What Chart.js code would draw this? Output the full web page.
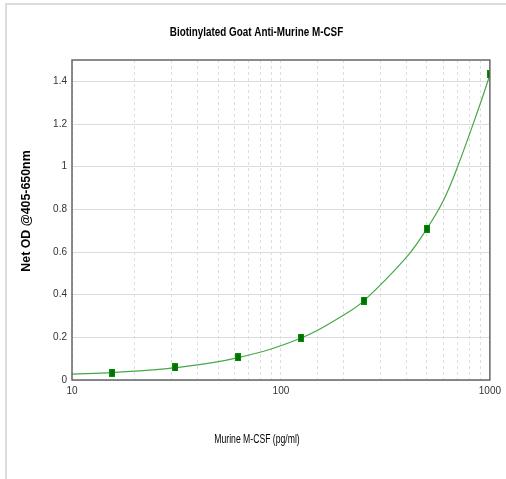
<!DOCTYPE html>
<html>
<head>
<meta charset="utf-8">
<script src="https://cdn.jsdelivr.net/npm/chart.js@4"></script>
<style>
  html, body { margin: 0; padding: 0; background: #fff; }
  #wrap { position: relative; width: 506px; height: 479px; }
  #frame { position: absolute; left: 5px; top: 3px; right: 0; bottom: 0;
           border-top: 2px solid #dcdcdc; border-left: 2px solid #dcdcdc; }
  canvas { position: absolute; left: 0; top: 0; }
</style>
</head>
<body>
<div id="wrap">
  <div id="frame"></div>
  <canvas id="chart" width="506" height="479"></canvas>
</div>
<script>
const concentrations = [15.6, 31.25, 62.5, 125, 250, 500, 1000];
const odValues = [0.034, 0.059, 0.106, 0.198, 0.372, 0.71, 1.433];
// fitted curve (starts at the left edge of the axis)
const curveX = [10, 15.6, 31.25, 62.5, 125, 200, 250, 400, 500, 600, 700, 900, 1000];
const curveY = [0.028, 0.035, 0.058, 0.105, 0.197, 0.305, 0.372, 0.577, 0.71, 0.843, 0.999, 1.296, 1.43];
const xTickLabels = [10, 100, 1000];

const chartTitle = "Biotinylated Goat Anti-Murine M-CSF";
const xTitle = "Murine M-CSF (pg/ml)";
const yTitle = "Net OD @405-650nm";

const sans = "'Liberation Sans', Arial, sans-serif";

// small upright green block used as the marker
const marker = document.createElement("canvas");
marker.width = 6;
marker.height = 8;
const mctx = marker.getContext("2d");
mctx.fillStyle = "#0a8a0a";
mctx.fillRect(0, 0, 6, 8);
mctx.fillStyle = "#007000";
mctx.fillRect(1, 1, 4, 6);

// no narrow font installed, so the titles are squeezed sideways
function narrowText(ctx, text, x, y, font, squeeze, rot) {
  ctx.save();
  ctx.translate(x, y);
  if (rot) ctx.rotate(rot);
  ctx.scale(squeeze, 1);
  ctx.font = font;
  ctx.fillStyle = "#000";
  ctx.textAlign = "center";
  ctx.textBaseline = "middle";
  ctx.fillText(text, 0, 0);
  ctx.restore();
}

const frameBox = {
  id: "frameBox",
  afterDraw(chart) {
    const { ctx, chartArea: a } = chart;
    ctx.save();
    ctx.strokeStyle = "#666";
    ctx.lineWidth = 1.5;
    ctx.strokeRect(a.left, a.top, a.right - a.left, a.bottom - a.top);
    ctx.restore();
    narrowText(ctx, chartTitle, 256.5, 32.5, "bold 13px " + sans, 0.76);
    narrowText(ctx, xTitle, 257, 440, "12px " + sans, 0.72);
    narrowText(ctx, yTitle, 27, 211, "bold 12px " + sans, 1.03, -Math.PI / 2);
  },
};

new Chart(document.getElementById("chart"), {
  type: "scatter",
  data: {
    datasets: [
      {
        label: "Standards",
        data: concentrations.map((c, i) => ({ x: c, y: odValues[i] })),
        pointStyle: marker,
        pointRadius: 4,
        showLine: false,
        order: 0,
      },
      {
        label: "Fit",
        data: curveX.map((c, i) => ({ x: c, y: curveY[i] })),
        showLine: true,
        borderColor: "#45a845",
        borderWidth: 1.2,
        pointRadius: 0,
        tension: 0.4,
        order: 1,
      },
    ],
  },
  options: {
    responsive: false,
    animation: false,
    layout: { padding: { left: 0, right: 14, top: 60, bottom: 0 } },
    plugins: {
      legend: { display: false },
      tooltip: { enabled: false },
    },
    scales: {
      x: {
        type: "logarithmic",
        min: 10,
        max: 1000,
        afterFit(scale) { scale.height = 99; },
        border: { display: false, dash: [3, 3] },
        grid: { color: "#dedede", lineWidth: 1, drawTicks: false },
        ticks: {
          autoSkip: false,
          maxRotation: 0,
          padding: 5,
          color: "#333",
          font: { family: sans, size: 10 },
          callback: (v) => (xTickLabels.includes(v) ? String(v) : ""),
        },
      },
      y: {
        min: 0,
        max: 1.5,
        afterFit(scale) { scale.width = 72; },
        border: { display: false },
        grid: { color: "#dcdcdc", lineWidth: 1, drawTicks: false },
        ticks: {
          stepSize: 0.2,
          includeBounds: false,
          padding: 5,
          color: "#333",
          font: { family: sans, size: 10 },
          callback: (v) => String(Math.round(v * 10) / 10),
        },
      },
    },
  },
  plugins: [frameBox],
});
</script>
</body>
</html>
